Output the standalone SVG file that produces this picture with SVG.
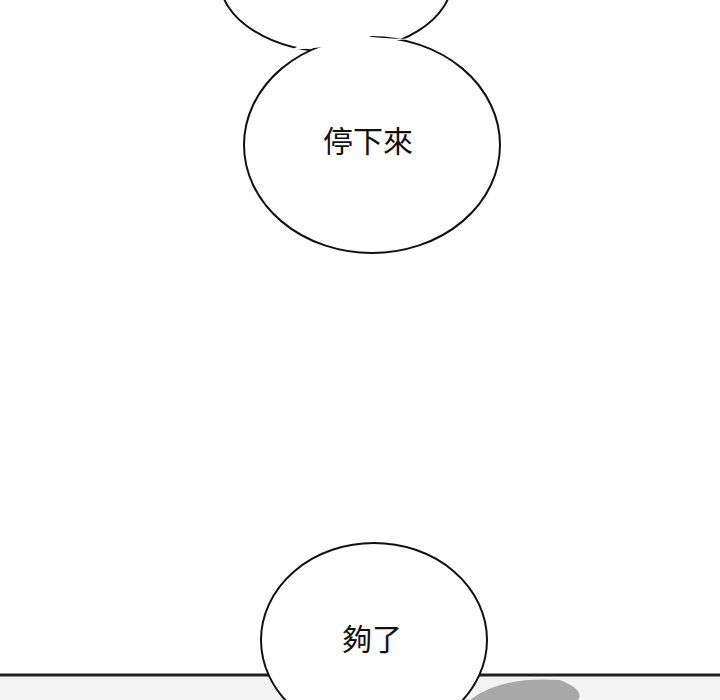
<svg xmlns="http://www.w3.org/2000/svg" width="720" height="700" viewBox="0 0 720 700">
<style>.b{fill:#fff;stroke:#111;stroke-width:2}.t{font-family:"Noto Sans CJK TC","Noto Sans CJK SC",sans-serif;font-size:30px;fill:#111;text-anchor:middle}</style>
<rect width="720" height="700" fill="#fff"/>
<rect x="0" y="675" width="720" height="25" fill="#f3f3f3"/>
<path d="M470 700 Q500 676 560 680 Q585 690 578 700 Z" fill="#a8a8a8"/>
<line x1="0" y1="675" x2="720" y2="675" stroke="#222" stroke-width="3"/>
<g id="bubble1">
<ellipse class="b" cx="336" cy="-20" rx="116" ry="72"/>
<ellipse class="b" cx="372" cy="145" rx="128" ry="108"/>
<path d="M292 50 Q330 25 372 37 Q400 40 420 38" fill="#fff" stroke="none"/>
<path d="M290 52 Q300 45 312 40 M415 36 Q428 40 440 46" fill="none" stroke="none"/>
<text class="t" x="368" y="152">停下來</text>
</g>
<g id="bubble2">
<ellipse class="b" cx="374" cy="640" rx="113" ry="97"/>
<text class="t" x="372" y="650">夠了</text>
</g>
</svg>
